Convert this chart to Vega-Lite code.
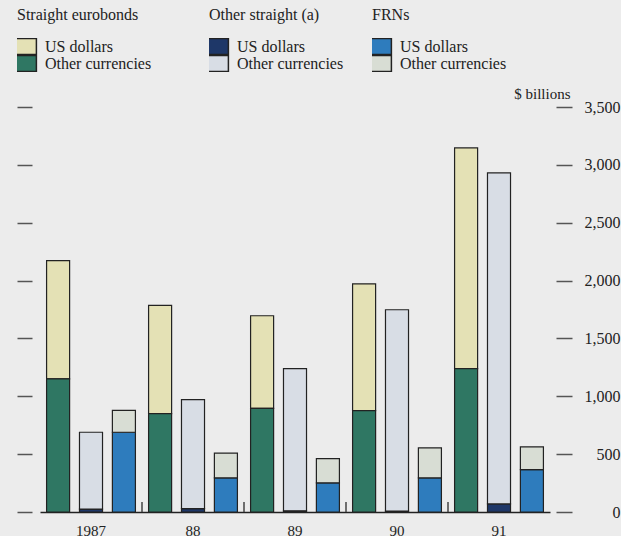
{
  "$schema": "https://vega.github.io/schema/vega-lite/v6.json",
  "width": 510,
  "height": 405,
  "autosize": {"type": "none"},
  "padding": {"left": 40, "top": 107, "right": 71, "bottom": 24},
  "background": "#ececec",
  "config": {
    "font": "Liberation Serif",
    "view": {"stroke": null},
    "axis": {"grid": false, "labelFont": "Liberation Serif", "titleFont": "Liberation Serif", "labelColor": "#222", "titleColor": "#222", "tickColor": "#444", "domainColor": "#222"},
    "legend": {"orient": "none", "titleFont": "Liberation Serif", "titleFontSize": 16, "titleFontWeight": "normal", "titleColor": "#222", "labelFont": "Liberation Serif", "labelFontSize": 16, "labelColor": "#222", "symbolType": "M-1.3,-1H1.3V1H-1.3Z", "symbolSize": 256, "symbolStrokeColor": "#222", "symbolStrokeWidth": 1.5, "symbolOpacity": 1, "rowPadding": 0, "clipHeight": 17, "titlePadding": 15, "labelOffset": 10}
  },
  "datasets": {
    "bonds": [
      {"year": "1987", "type": "Straight eurobonds", "currency": "US dollars", "value": 1023},
      {"year": "1987", "type": "Straight eurobonds", "currency": "Other currencies", "value": 1150},
      {"year": "1987", "type": "Other straight", "currency": "US dollars", "value": 25},
      {"year": "1987", "type": "Other straight", "currency": "Other currencies", "value": 664},
      {"year": "1987", "type": "FRNs", "currency": "US dollars", "value": 689},
      {"year": "1987", "type": "FRNs", "currency": "Other currencies", "value": 190},
      {"year": "88", "type": "Straight eurobonds", "currency": "US dollars", "value": 935},
      {"year": "88", "type": "Straight eurobonds", "currency": "Other currencies", "value": 850},
      {"year": "88", "type": "Other straight", "currency": "US dollars", "value": 30},
      {"year": "88", "type": "Other straight", "currency": "Other currencies", "value": 941},
      {"year": "88", "type": "FRNs", "currency": "US dollars", "value": 295},
      {"year": "88", "type": "FRNs", "currency": "Other currencies", "value": 213},
      {"year": "89", "type": "Straight eurobonds", "currency": "US dollars", "value": 800},
      {"year": "89", "type": "Straight eurobonds", "currency": "Other currencies", "value": 896},
      {"year": "89", "type": "Other straight", "currency": "US dollars", "value": 10},
      {"year": "89", "type": "Other straight", "currency": "Other currencies", "value": 1229},
      {"year": "89", "type": "FRNs", "currency": "US dollars", "value": 252},
      {"year": "89", "type": "FRNs", "currency": "Other currencies", "value": 210},
      {"year": "90", "type": "Straight eurobonds", "currency": "US dollars", "value": 1096},
      {"year": "90", "type": "Straight eurobonds", "currency": "Other currencies", "value": 876},
      {"year": "90", "type": "Other straight", "currency": "US dollars", "value": 8},
      {"year": "90", "type": "Other straight", "currency": "Other currencies", "value": 1740},
      {"year": "90", "type": "FRNs", "currency": "US dollars", "value": 295},
      {"year": "90", "type": "FRNs", "currency": "Other currencies", "value": 259},
      {"year": "91", "type": "Straight eurobonds", "currency": "US dollars", "value": 1907},
      {"year": "91", "type": "Straight eurobonds", "currency": "Other currencies", "value": 1239},
      {"year": "91", "type": "Other straight", "currency": "US dollars", "value": 70},
      {"year": "91", "type": "Other straight", "currency": "Other currencies", "value": 2860},
      {"year": "91", "type": "FRNs", "currency": "US dollars", "value": 367},
      {"year": "91", "type": "FRNs", "currency": "Other currencies", "value": 196}
    ],
    "separators": [{"year": "88"}, {"year": "89"}, {"year": "90"}, {"year": "91"}]
  },
  "layer": [
    {
      "data": {"name": "bonds"},
      "transform": [{"filter": "datum.type === 'Straight eurobonds'"}],
      "mark": {"type": "bar", "stroke": "#222", "strokeWidth": 1.2},
      "encoding": {
        "x": {"field": "year", "type": "nominal", "scale": {"domain": ["1987", "88", "89", "90", "91"], "paddingInner": 0, "paddingOuter": 0}, "axis": {"title": null, "labelAngle": 0, "labelFontSize": 15, "ticks": false, "domainWidth": 1.5, "labelPadding": 11, "labelBaseline": "top"}},
        "xOffset": {"field": "type", "type": "nominal", "scale": {"domain": ["Straight eurobonds", "Other straight", "FRNs"], "paddingInner": 0.3, "paddingOuter": 0.2}},
        "y": {"field": "value", "type": "quantitative", "stack": "zero", "scale": {"domain": [0, 3500], "nice": false}, "axis": {"orient": "left", "title": null, "labels": false, "domain": false, "offset": 8, "tickSize": 15, "tickWidth": 1.5, "tickColor": "#555", "values": [0, 500, 1000, 1500, 2000, 2500, 3000, 3500]}},
        "color": {"field": "currency", "type": "nominal", "scale": {"domain": ["US dollars", "Other currencies"], "range": ["#e4e1b5", "#2f7763"]}, "legend": {"title": "Straight eurobonds", "legendX": -23, "legendY": -100}},
        "order": {"field": "currency", "sort": "ascending"}
      }
    },
    {
      "data": {"name": "bonds"},
      "transform": [{"filter": "datum.type === 'Other straight'"}],
      "mark": {"type": "bar", "stroke": "#222", "strokeWidth": 1.2},
      "encoding": {
        "x": {"field": "year", "type": "nominal"},
        "xOffset": {"field": "type", "type": "nominal"},
        "y": {"field": "value", "type": "quantitative", "stack": "zero", "axis": {"orient": "right", "title": "$ billions", "titleAngle": 0, "titleFontSize": 15, "titleFontWeight": "normal", "titleAlign": "right", "titleBaseline": "middle", "titleX": 14, "titleY": -14, "domain": false, "offset": 6, "tickSize": 16, "tickWidth": 1.5, "tickColor": "#555", "labelAlign": "right", "labelPadding": 48, "labelFontSize": 16, "labelBaseline": "middle", "values": [0, 500, 1000, 1500, 2000, 2500, 3000, 3500], "format": ",d"}},
        "color": {"field": "currency", "type": "nominal", "scale": {"domain": ["US dollars", "Other currencies"], "range": ["#1e3768", "#d8dde5"]}, "legend": {"title": "Other straight (a)", "legendX": 169, "legendY": -100}},
        "order": {"field": "currency", "sort": "descending"}
      }
    },
    {
      "data": {"name": "bonds"},
      "transform": [{"filter": "datum.type === 'FRNs'"}],
      "mark": {"type": "bar", "stroke": "#222", "strokeWidth": 1.2},
      "encoding": {
        "x": {"field": "year", "type": "nominal"},
        "xOffset": {"field": "type", "type": "nominal"},
        "y": {"field": "value", "type": "quantitative", "stack": "zero", "axis": null},
        "color": {"field": "currency", "type": "nominal", "scale": {"domain": ["US dollars", "Other currencies"], "range": ["#2e7cbd", "#d8ddd4"]}, "legend": {"title": "FRNs", "legendX": 332, "legendY": -100}},
        "order": {"field": "currency", "sort": "descending"}
      }
    },
    {
      "data": {"name": "separators"},
      "mark": {"type": "rule", "color": "#444", "strokeWidth": 1.5},
      "encoding": {
        "x": {"field": "year", "type": "nominal", "bandPosition": 0},
        "y": {"datum": 0, "axis": null},
        "y2": {"datum": 86}
      }
    }
  ],
  "resolve": {"scale": {"color": "independent"}, "legend": {"color": "independent"}, "axis": {"y": "independent"}}
}
